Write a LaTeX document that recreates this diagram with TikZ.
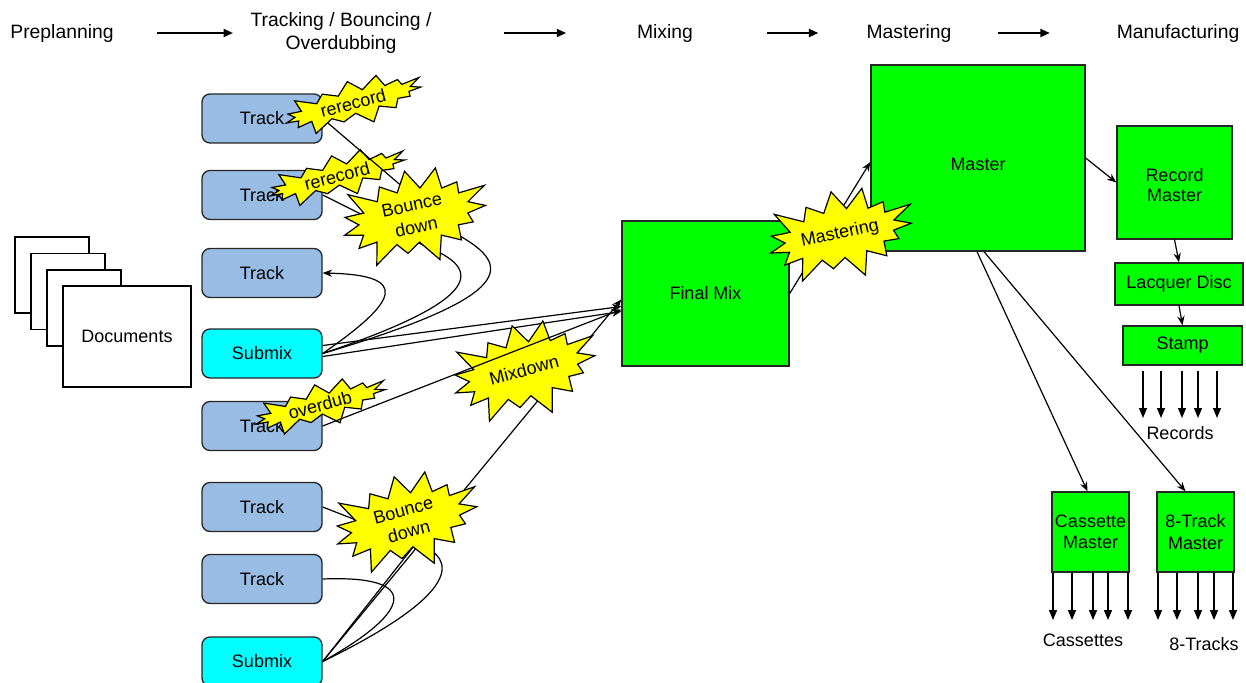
\documentclass[tikz,border=0pt]{standalone}
\usepackage{fontspec}
\setmainfont{Liberation Sans}
\usetikzlibrary{shapes.symbols,arrows.meta,calc}
\definecolor{trackblue}{RGB}{153,188,228}
\definecolor{subcyan}{RGB}{0,255,255}
\definecolor{boxgreen}{RGB}{0,255,0}
\definecolor{burstyellow}{RGB}{255,255,0}
\begin{document}
\begin{tikzpicture}[x=0.75pt,y=-0.75pt,
  every node/.style={font=\fontsize{13.5}{16}\selectfont, inner sep=0pt},
  hdr/.style={font=\fontsize{14.5}{17}\selectfont, align=center},
  trackbox/.style={draw=black!85, line width=1pt, fill=trackblue, rounded corners=6pt, minimum width=90pt, minimum height=36.75pt},
  subbox/.style={trackbox, fill=subcyan},
  greenbox/.style={draw=black!85, line width=1pt, fill=boxgreen, align=center},
  page/.style={draw=black, line width=1.4pt, fill=white, minimum width=55.5pt, minimum height=57pt},
  burst/.style={starburst, draw=black, line width=0.9pt, fill=burstyellow, align=center, font=\fontsize{13.5}{16.5}\selectfont},
  bigburst/.style={burst, minimum width=124pt, minimum height=80pt, starburst point height=20pt, starburst points=15},
  smallburst/.style={burst, minimum width=114pt, minimum height=38pt, starburst point height=12pt, starburst points=15},
  conn/.style={draw=black, line width=0.9pt},
  arr/.style={conn, -{Stealth[length=7pt,width=5.5pt]}},
  outarr/.style={draw=black, line width=1pt, -{Triangle[length=7.5pt,width=6pt]}},
  hdrarr/.style={draw=black, line width=1.4pt, -{Triangle[length=7pt,width=6pt]}}
]
\fill[white] (0,0) rectangle (1246,682);
\useasboundingbox (0,0) rectangle (1246,682);

% header
\node[hdr] (hpre) at (62,33) {Preplanning};
\node[hdr] (htrk) at (341,33) {Tracking / Bouncing /\\Overdubbing};
\node[hdr] (hmix) at (665,33) {Mixing};
\node[hdr] (hmas) at (909,33) {Mastering};
\node[hdr] (hman) at (1178,33) {Manufacturing};
\draw[hdrarr, shorten <=32pt, shorten >=13pt] (hpre.east) -- (htrk.west|-hpre.east);
\draw[hdrarr, shorten <=54pt, shorten >=53pt] (htrk.east|-hmix.west) -- (hmix.west);
\draw[hdrarr, shorten <=55pt, shorten >=36pt] (hmix.east) -- (hmas.west);
\draw[hdrarr, shorten <=34.5pt, shorten >=50pt] (hmas.east) -- (hman.west);

% documents
\node[page] (p1) at (52,275) {};
\node[page] (p2) at (68,291.5) {};
\node[page] (p3) at (84,308) {};
\node[page, minimum width=96pt, minimum height=75.75pt] (doc) at (127,336.5) {Documents};

% tracks
\node[trackbox] (t1) at (262,118.5) {Track};
\node[trackbox] (t2) at (262,195) {Track};
\node[trackbox] (t3) at (262,273) {Track};
\node[subbox]   (sm1) at (262,353.5) {Submix};
\node[trackbox] (t4) at (262,426) {Track};
\node[trackbox] (t5) at (262,507) {Track};
\node[trackbox] (t6) at (262,579) {Track};
\node[subbox]   (sm2) at (262,661.5) {Submix};

% green boxes
\node[greenbox, minimum width=125.25pt, minimum height=108.75pt] (fm) at (705.5,293.5) {Final Mix};
\node[greenbox, minimum width=160.5pt, minimum height=139.5pt] (ms) at (978,158) {\raisebox{-9.4pt}[0pt][0pt]{Master}};
\node[greenbox, minimum width=86.25pt, minimum height=84.75pt] (rm) at (1174.5,182.5) {\raisebox{-6.8pt}[0pt][0pt]{\begin{tabular}{@{}c@{}}Record\\[-1pt]Master\end{tabular}}};
\node[greenbox, minimum width=96pt, minimum height=31.5pt] (lq) at (1179,284) {Lacquer Disc};
\node[greenbox, minimum width=89.25pt, minimum height=29.25pt] (st) at (1182.5,345.5) {Stamp};
\node[greenbox, minimum width=57.75pt, minimum height=60pt] (cm) at (1090.5,532) {Cassette\\Master};
\node[greenbox, minimum width=57.75pt, minimum height=60pt] (em) at (1195.5,532) {8-Track\\Master};

% labels
\node (lrec) at (1180,433) {Records};
\node (lcas) at (1083,640) {Cassettes};
\node (l8t) at (1204,644) {8-Tracks};

% output arrows
\foreach \x [count=\i] in {1143,1161,1182,1198,1217} {
  \coordinate (rs\i) at (\x,371); \coordinate (re\i) at (\x,418);
  \draw[outarr] (rs\i) -- (re\i);
}
\foreach \x [count=\i] in {1053,1072,1093,1108,1128} {
  \coordinate (ce\i) at (\x,620);
  \draw[outarr] (ce\i |- cm.south) -- (ce\i);
}
\foreach \x [count=\i] in {1158,1177,1198,1214,1233} {
  \coordinate (ee\i) at (\x,620);
  \draw[outarr] (ee\i |- em.south) -- (ee\i);
}

% connectors under bursts
\coordinate (b1in) at (460,236);
\coordinate (b2in) at (427,247);
\coordinate (b5in) at (420,545);
\coordinate (bd2in) at (425,532);
\draw[conn] (t2.east) -- (b2in) .. controls (480,268) and (488,298) .. (sm1.east);
\draw[arr] (sm1.east) .. controls (400,300) and (410,275) .. (t3.east);
\draw[arr] ($(sm1.east)+(0,-8)$) -- ($(fm.west)+(0,13)$);
\draw[arr] ($(sm1.east)+(0,3)$) -- ($(fm.west)+(0,18)$);
\draw[arr] (sm2.east) -- ($(fm.west)+(0,6)$);
\draw[conn] (t5.east) -- (b5in) .. controls (455,558) and (465,592) .. (sm2.east);
\draw[conn] (t6.east) .. controls (420,575) and (415,610) .. (sm2.east);
\draw[conn] (sm2.east) -- (bd2in);
\draw[arr] (fm.east) -- ($(ms.west)+(0,4)$);
\draw[arr] (ms.east) -- (rm.west);
\draw[arr] (rm.south) -- (lq.north);
\draw[arr] (lq.south) -- (st.north);
\draw[arr] ($(ms.south)+(-1,0)$) -- ($(cm.north)+(-3,0)$);
\draw[arr] ($(ms.south)+(6,0)$) -- ($(em.north)+(-10,0)$);

% bursts
\node[smallburst, rotate=15] (rr2) at (337,176) {rerecord};
\draw[conn] (t1.east) -- (b1in) .. controls (510,265) and (520,295) .. (sm1.east);
\node[smallburst, rotate=15, minimum height=40pt] (rr1) at (353,103) {rerecord};
\node[bigburst, rotate=12] (bd1) at (414,216) {Bounce\\down};
\node[bigburst, rotate=15] (bd2) at (406,521) {Bounce\\down};
\node[bigburst, rotate=15] (mx) at (524,370) {Mixdown};
\node[bigburst, rotate=12, minimum width=120pt, minimum height=76pt] (mst) at (840,234) {Mastering};
\node[smallburst, rotate=15, minimum width=110pt, minimum height=34pt] (od) at (320,405) {overdub};

% connector over bursts
\draw[arr] (t4.east) -- ($(fm.west)+(0,16)$);
\end{tikzpicture}
\end{document}
